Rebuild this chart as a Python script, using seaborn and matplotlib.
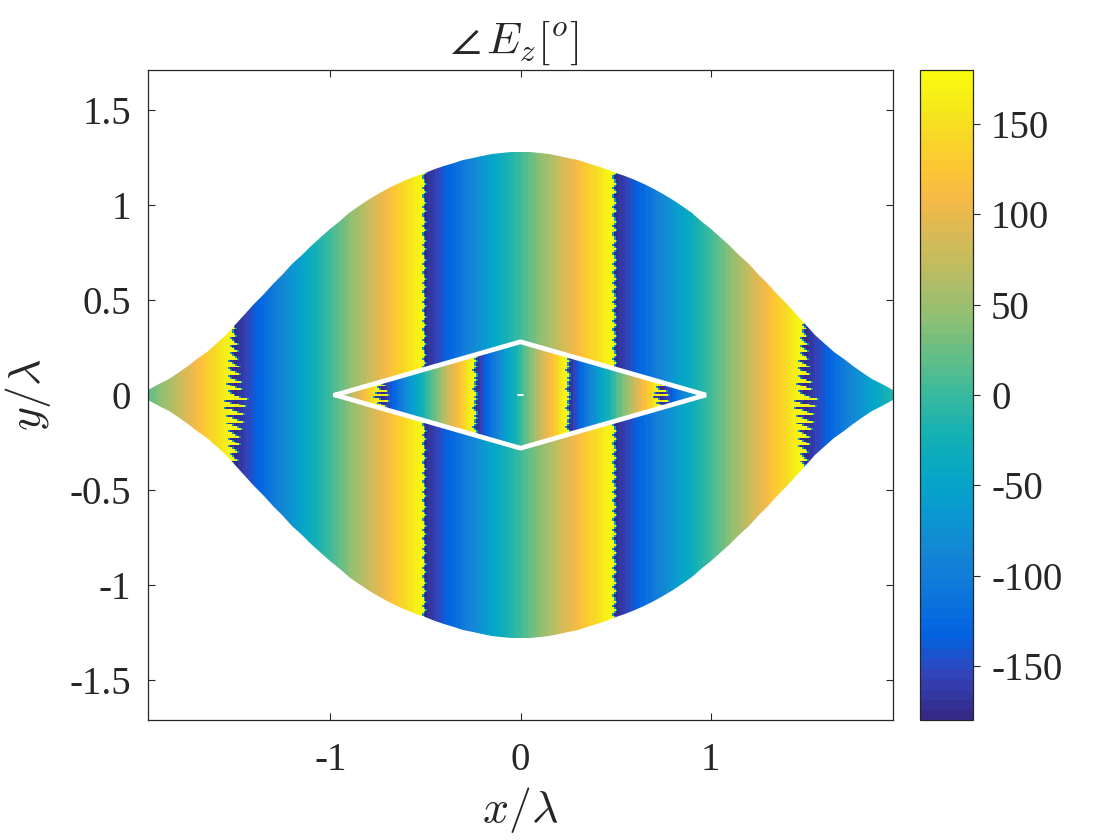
"""Phase of E_z over the lens-shaped region with the inner diamond."""
import matplotlib

matplotlib.use("Agg")
import matplotlib.pyplot as plt
import numpy as np
import seaborn as sns
from matplotlib.colors import LinearSegmentedColormap
from matplotlib.patches import Polygon
from matplotlib.transforms import Affine2D

# outer region: phase in degrees, one value per column, x = -1.96 ... 1.96 step 0.01
outer_x0, outer_dx = -1.96, 0.01
outer_phase = [
    16, 20, 23, 27, 31, 34, 38, 41, 45, 49, 52, 56, 59, 63, 67, 70, 74, 77, 81, 85, 88, 92, 95, 99, 103,
    106, 110, 113, 117, 121, 124, 128, 131, 135, 139, 142, 146, 149, 153, 157, 160, 164, 167, 171, 175, 178,
    -178, -175, -171, -167, -164, -160, -157, -153, -149, -146, -142, -139, -135, -131, -128, -124, -121, -117, -113, -110,
    -106, -103, -99, -95, -92, -88, -85, -81, -77, -74, -70, -67, -63, -59, -56, -52, -49, -45, -41, -38,
    -34, -31, -27, -23, -20, -16, -13, -9, -5, -2, 2, 5, 9, 13,
    16, 20, 23, 27, 31, 34, 38, 41, 45, 49, 52, 56, 59, 63, 67, 70, 74, 77, 81, 85, 88, 92, 95, 99, 103,
    106, 110, 113, 117, 121, 124, 128, 131, 135, 139, 142, 146, 149, 153, 157, 160, 164, 167, 171, 175, 178,
    -178, -175, -171, -167, -164, -160, -157, -153, -149, -146, -142, -139, -135, -131, -128, -124, -121, -117, -113, -110,
    -106, -103, -99, -95, -92, -88, -85, -81, -77, -74, -70, -67, -63, -59, -56, -52, -49, -45, -41, -38,
    -34, -31, -27, -23, -20, -16, -13, -9, -5, -2, 2, 5, 9, 13,
    16, 20, 23, 27, 31, 34, 38, 41, 45, 49, 52, 56, 59, 63, 67, 70, 74, 77, 81, 85, 88, 92, 95, 99, 103,
    106, 110, 113, 117, 121, 124, 128, 131, 135, 139, 142, 146, 149, 153, 157, 160, 164, 167, 171, 175, 178,
    -178, -175, -171, -167, -164, -160, -157, -153, -149, -146, -142, -139, -135, -131, -128, -124, -121, -117, -113, -110,
    -106, -103, -99, -95, -92, -88, -85, -81, -77, -74, -70, -67, -63, -59, -56, -52, -49, -45, -41, -38,
    -34, -31, -27, -23, -20, -16, -13, -9, -5, -2, 2, 5, 9, 13,
    16, 20, 23, 27, 31, 34, 38, 41, 45, 49, 52, 56, 59, 63, 67, 70, 74, 77, 81, 85, 88, 92, 95, 99, 103,
    106, 110, 113, 117, 121, 124, 128, 131, 135, 139, 142, 146, 149, 153, 157, 160, 164, 167, 171, 175, 178,
    -178, -175, -171, -167, -164, -160, -157, -153, -149, -146, -142, -139, -135, -131, -128, -124, -121, -117, -113, -110,
    -106, -103, -99, -95, -92, -88, -85, -81, -77, -74, -70, -67, -63, -59, -56, -52, -49, -45, -41, -38,
    -34, -31, -27, -23, -20, -16, -13,
]

# inner diamond: phase in degrees, x = -0.98 ... 0.98 step 0.01
inner_x0, inner_dx = -0.98, 0.01
inner_phase = [
    -2, 5, 12, 20, 27, 34, 42, 49, 57, 64, 71, 79, 86, 93, 101, 108, 115, 123, 130, 137, 145, 152, 159, 167, 174,
    -179, -171, -164, -157, -149, -142, -135, -127, -120, -112, -105, -98, -90, -83, -76, -68, -61, -54, -46, -39, -32, -24, -17, -10,
    -2, 5, 12, 20, 27, 34, 42, 49, 57, 64, 71, 79, 86, 93, 101, 108, 115, 123, 130, 137, 145, 152, 159, 167, 174,
    -179, -171, -164, -157, -149, -142, -135, -127, -120, -112, -105, -98, -90, -83, -76, -68, -61, -54, -46, -39, -32, -24, -17, -10,
    -2, 5, 12, 20, 27, 34, 42, 49, 57, 64, 71, 79, 86, 93, 101, 108, 115, 123, 130, 137, 145, 152, 159, 167, 174,
    -179, -171, -164, -157, -149, -142, -135, -127, -120, -112, -105, -98, -90, -83, -76, -68, -61, -54, -46, -39, -32, -24, -17, -10,
    -2, 5, 12, 20, 27, 34, 42, 49, 57, 64, 71, 79, 86, 93, 101, 108, 115, 123, 130, 137, 145, 152, 159, 167, 174,
    -179, -171, -164, -157, -149, -142, -135, -127, -120, -112, -105, -98, -90, -83, -76, -68, -61, -54, -46, -39, -32, -24, -17, -10,
    -2,
]

# jagged wrap lines: phase offset per row, step 0.01 in y
near_teeth = [-3, -1, 1, 3, 2, -1, -3, 0, 2, 0]
far_teeth = [  # outer region, y = -0.37 ... 0.37
    0, 3, 6, -6, -2, 3, 8, -9, -3, 3, 9, -11, -4, 3, 10, -13, -5, 3, 12, -16, -6, 4, 14, -18, -8, 4, 15,
    -20, -9, 4, 17, -23, -10, 5, 18, -25, -10, 0, 6, 12, -16, -5, 6, 13, -14, -4, 6, 12, -12, -4, 5, 10,
    -10, -3, 4, 9, -9, -3, 4, 8, -8, -2, 3, 7, -7, -2, 3, 5, -5, -1, 2, 4, -3, 0, 2,
]
inner_near_teeth = [-5, -2, 3, 6, 2, -4, 2, 5, -2, 0]
inner_far_teeth = [  # inner diamond, y = -0.09 ... 0.09
    -8, 6, 14, -16, 4, 20, -26, 6, 28, -30, 26, -22, 6, 20, -16, 4, 12, -8, 4,
]
fringe_deg = -70  # the thin blue edge on the wrap lines

# lens outline, half height against |x|
outline_x = [0, 0.05, 0.1, 0.15, 0.2, 0.25, 0.3, 0.35, 0.4, 0.45, 0.5, 0.55, 0.6, 0.65, 0.7, 0.75, 0.8, 0.85, 0.9, 0.95,
             1.0, 1.05, 1.1, 1.15, 1.2, 1.25, 1.3, 1.35, 1.4, 1.45, 1.5, 1.55, 1.6, 1.65, 1.7, 1.75, 1.8, 1.85, 1.9, 1.96]
outline_y = [1.277, 1.276, 1.272, 1.266, 1.258, 1.247, 1.235, 1.221, 1.205, 1.188, 1.17, 1.15, 1.13, 1.108, 1.082,
             1.055, 1.025, 0.992, 0.955, 0.917, 0.875, 0.831, 0.785, 0.738, 0.69, 0.638, 0.585, 0.532, 0.48, 0.424,
             0.37, 0.318, 0.27, 0.228, 0.19, 0.151, 0.115, 0.086, 0.06, 0.026]

diamond_x = [-0.975, 0, 0.975, 0, -0.975]
diamond_y = [0, 0.28, 0, -0.28, 0]

x_ticks = [-1, 0, 1]
x_tick_labels = ["-1", "0", "1"]
y_ticks = [-1.5, -1, -0.5, 0, 0.5, 1, 1.5]
y_tick_labels = ["-1.5", "-1", "-0.5", "0", "0.5", "1", "1.5"]
cbar_ticks = [-150, -100, -50, 0, 50, 100, 150]

# parula, every fourth entry of the 64 level table
parula = LinearSegmentedColormap.from_list("parula", [
    (0.2081, 0.1663, 0.5292), (0.1959, 0.2645, 0.7279), (0.0117, 0.3875, 0.8820), (0.0498, 0.4586, 0.8641),
    (0.0793, 0.5200, 0.8312), (0.0343, 0.5966, 0.8199), (0.0228, 0.6535, 0.7768), (0.0843, 0.6928, 0.7062),
    (0.2178, 0.7250, 0.6193), (0.3953, 0.7459, 0.5244), (0.5709, 0.7485, 0.4494), (0.7184, 0.7411, 0.3905),
    (0.8507, 0.7299, 0.3360), (0.9739, 0.7314, 0.2666), (0.9880, 0.8066, 0.1794), (0.9589, 0.8949, 0.1132),
    (0.9763, 0.9831, 0.0538),
], N=64)

sns.set_theme(style="white")
plt.rcParams["font.family"] = ["Liberation Serif", "DejaVu Serif"]
plt.rcParams["mathtext.fontset"] = "cm"
plt.rcParams["axes.unicode_minus"] = False
INK = "#262626"


def wrap(deg):
    return (deg + 180) % 360 - 180


def build_field(phase, x0, dx, y_half, near, far, far_from):
    """Rows of the phase profile; row offsets only move the wrap lines, so they come out jagged."""
    phase = np.asarray(phase, dtype=float)
    x = x0 + dx * np.arange(len(phase))
    n_rows = int(round(2 * y_half / 0.01)) + 1
    shift = np.zeros((n_rows, len(phase)))
    shift[:, np.abs(x) < far_from] = np.resize(near, n_rows)[:, None]
    first = (n_rows - len(far)) // 2
    far_shift = np.zeros(n_rows)
    far_shift[first:first + len(far)] = far
    shift[:, np.abs(x) >= far_from] = far_shift[:, None]
    base = np.tile(phase, (n_rows, 1))
    moved = wrap(base + shift)
    crossed = np.abs(moved - (base + shift)) > 1
    field = np.where(crossed, moved, base)
    edge = np.abs(np.diff(field, axis=1)) > 300
    field[:, 1:][edge] = fringe_deg
    return field


def draw_field(field, ax, x0, dx, y_half, clip, **kws):
    """Heatmap whose cells sit at data coordinates, clipped to a polygon."""
    sns.heatmap(field, ax=ax, cmap=parula, vmin=-180, vmax=180, xticklabels=False, yticklabels=False, **kws)
    mesh = ax.collections[-1]
    mesh.set_transform(Affine2D().scale(dx, 0.01).translate(x0 - dx / 2, -y_half - 0.005) + ax.transData)
    mesh.set_clip_path(Polygon(clip, closed=True, transform=ax.transData))
    return mesh


fig = plt.figure(figsize=(11.2, 8.4), dpi=100)
ax = fig.add_axes([148 / 1120, 1 - 720 / 840, 745 / 1120, 650 / 840])
cax = fig.add_axes([920 / 1120, 1 - 720 / 840, 53 / 1120, 650 / 840])

xs = np.asarray(outline_x)
ys = np.asarray(outline_y)
lens = np.concatenate([
    np.column_stack([-xs[::-1], ys[::-1]]), np.column_stack([xs[1:], ys[1:]]),
    np.column_stack([xs[::-1], -ys[::-1]]), np.column_stack([-xs[1:], -ys[1:]]),
])
diamond = np.column_stack([diamond_x[:-1], diamond_y[:-1]])

outer_field = build_field(outer_phase, outer_x0, outer_dx, 1.29, near_teeth, far_teeth, 1.0)
inner_field = build_field(inner_phase, inner_x0, inner_dx, 0.30, inner_near_teeth, inner_far_teeth, 0.5)

mesh = draw_field(outer_field, ax, outer_x0 - 0.005, outer_dx, 1.29, lens, cbar_ax=cax)
draw_field(inner_field, ax, inner_x0, inner_dx, 0.30, diamond, cbar=False)

ax.plot(diamond_x, diamond_y, color="white", lw=3.4, solid_joinstyle="bevel", zorder=4)
ax.plot([-0.012, 0.012], [0, 0], color="white", lw=1.3, zorder=4)

ax.set_xlim(-1.96, 1.96)
ax.set_ylim(-1.71, 1.71)
ax.set_xticks(x_ticks)
ax.set_xticklabels(x_tick_labels, rotation=0)
ax.set_yticks(y_ticks)
ax.set_yticklabels(y_tick_labels, rotation=0)
ax.tick_params(direction="in", length=5, width=0.8, color=INK, labelcolor=INK, labelsize=28,
               top=True, right=True, bottom=True, left=True, pad=12)
ax.tick_params(axis="x", pad=16)
for spine in ax.spines.values():
    spine.set_visible(True)
    spine.set_color(INK)
    spine.set_linewidth(0.9)

ax.set_xlabel(r"$x/\lambda$", fontsize=33, color=INK, labelpad=4)
ax.set_ylabel(r"$y/\lambda$", fontsize=33, color=INK, labelpad=12)
ax.set_title(r"$\angle\,E_z[^o]$", fontsize=32, color=INK, pad=12, x=0.492)

cbar = mesh.colorbar
cbar.set_ticks(cbar_ticks)
cbar.set_ticklabels([str(t) for t in cbar_ticks])
cbar.ax.tick_params(direction="out", length=5, width=0.8, color=INK, labelcolor=INK, labelsize=28, right=True, pad=8)
cbar.outline.set_visible(True)
cbar.outline.set_edgecolor(INK)
cbar.outline.set_linewidth(0.9)

fig.savefig("out.png", dpi=100)
